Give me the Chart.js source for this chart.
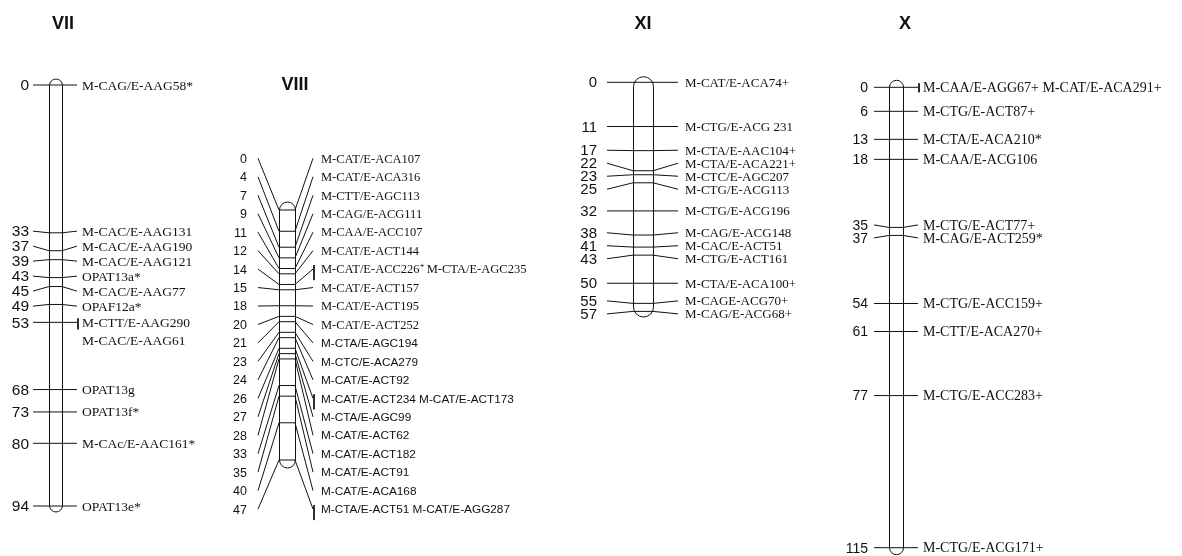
<!DOCTYPE html>
<html>
<head>
<meta charset="utf-8">
<script src="https://cdn.jsdelivr.net/npm/chart.js@4.4.1/dist/chart.umd.min.js"></script>
<style>
  html, body { margin: 0; padding: 0; background: #fff; }
  canvas { display: block; }
</style>
</head>
<body>
<canvas id="map" width="1182" height="556"></canvas>
<script>
//------------------------------------------------------
// DATA : marker positions (cM) and names per linkage group
//------------------------------------------------------
const groups = ['VII', 'VIII', 'XI', 'X'];

const posVII = [0, 33, 37, 39, 43, 45, 49, 53, 68, 73, 80, 94];
const namesVII = ['M-CAG/E-AAG58*', 'M-CAC/E-AAG131', 'M-CAC/E-AAG190', 'M-CAC/E-AAG121',
  'OPAT13a*', 'M-CAC/E-AAG77', 'OPAF12a*', ['M-CTT/E-AAG290', 'M-CAC/E-AAG61'],
  'OPAT13g', 'OPAT13f*', 'M-CAc/E-AAC161*', 'OPAT13e*'];

const posVIII = [0, 4, 7, 9, 11, 12, 14, 15, 18, 20, 21, 23, 24, 26, 27, 28, 33, 35, 40, 47];
const namesVIII = ['M-CAT/E-ACA107', 'M-CAT/E-ACA316', 'M-CTT/E-AGC113', 'M-CAG/E-ACG111',
  'M-CAA/E-ACC107', 'M-CAT/E-ACT144', ['M-CAT/E-ACC226\u207A', 'M-CTA/E-AGC235'],
  'M-CAT/E-ACT157', 'M-CAT/E-ACT195', 'M-CAT/E-ACT252', 'M-CTA/E-AGC194', 'M-CTC/E-ACA279',
  'M-CAT/E-ACT92', ['M-CAT/E-ACT234', 'M-CAT/E-ACT173'], 'M-CTA/E-AGC99', 'M-CAT/E-ACT62',
  'M-CAT/E-ACT182', 'M-CAT/E-ACT91', 'M-CAT/E-ACA168', ['M-CTA/E-ACT51', 'M-CAT/E-AGG287']];

const posXI = [0, 11, 17, 22, 23, 25, 32, 38, 41, 43, 50, 55, 57];
const namesXI = ['M-CAT/E-ACA74+', 'M-CTG/E-ACG 231', 'M-CTA/E-AAC104+', 'M-CTA/E-ACA221+',
  'M-CTC/E-AGC207', 'M-CTG/E-ACG113', 'M-CTG/E-ACG196', 'M-CAG/E-ACG148', 'M-CAC/E-ACT51',
  'M-CTG/E-ACT161', 'M-CTA/E-ACA100+', 'M-CAGE-ACG70+', 'M-CAG/E-ACG68+'];

const posX = [0, 6, 13, 18, 35, 37, 54, 61, 77, 115];
const namesX = [['M-CAA/E-AGG67+', 'M-CAT/E-ACA291+'], 'M-CTG/E-ACT87+', 'M-CTA/E-ACA210*',
  'M-CAA/E-ACG106', 'M-CTG/E-ACT77+', 'M-CAG/E-ACT259*', 'M-CTG/E-ACC159+', 'M-CTT/E-ACA270+',
  'M-CTG/E-ACC283+', 'M-CTG/E-ACG171+'];

const positions = { VII: posVII, VIII: posVIII, XI: posXI, X: posX };
const names = { VII: namesVII, VIII: namesVIII, XI: namesXI, X: namesX };

//------------------------------------------------------
// LAYOUT (page units = pixels on the x axis)
//------------------------------------------------------
const W = 1182, H = 556;
const SERIF = '"Liberation Serif", "Times New Roman", serif';
const SANS = '"Liberation Sans", Arial, sans-serif';

const layout = {
  VII:  { titleX: 63,  titleY: 24, numX: 29,  lineL: 33,  rodL: 49,  rodR: 62,  lineR: 77,  textX: 82,
          px0: 85, px1: 506, gap: 15, shift: 0, cap: 6, tickBelow: 7, stack: true,
          numFont: 15.5, nameFont: 13.5, sansFrom: 99 },
  VIII: { titleX: 295, titleY: 85, numX: 247, lineL: 258, rodL: 279, rodR: 295, lineR: 313, textX: 321,
          px0: 210, px1: 460, gap: 18.46, shift: 13.6, cap: 8, tickBelow: 11, stack: false,
          numFont: 12.5, nameFont: 12.5, sansFont: 11.8, sansFrom: 10 },
  XI:   { titleX: 643, titleY: 24, numX: 597, lineL: 607, rodL: 633, rodR: 653, lineR: 678, textX: 685,
          px0: 82.3, px1: 311.4, gap: 13, shift: 0, cap: 5.6, tickBelow: 6, stack: false,
          numFont: 15, nameFont: 13, sansFrom: 99 },
  X:    { titleX: 905, titleY: 24, numX: 868, lineL: 874, rodL: 889, rodR: 903, lineR: 918, textX: 923,
          px0: 87.3, px1: 547.7, gap: 13, shift: 0, cap: 7, tickBelow: 5, stack: false,
          numFont: 14, nameFont: 14, sansFrom: 99 }
};

// pixels per cM for each group
function pxPerCM(g) {
  const p = positions[g];
  return (layout[g].px1 - layout[g].px0) / (p[p.length - 1] - p[0]);
}

// y range so that the first / last marker land on px0 / px1
function yRange(g) {
  const k = pxPerCM(g);
  const min = positions[g][0] - layout[g].px0 / k;
  return { min: min, max: min + H / k };
}

// push overlapping labels apart, clusters stay centred on their markers
function spreadLabels(pos, gap, shift) {
  let cl = pos.map(p => ({ n: 1, sum: p, start: p }));
  let again = true;
  while (again) {
    again = false;
    for (let i = 0; i < cl.length - 1; i++) {
      const a = cl[i], b = cl[i + 1];
      if (a.start + a.n * gap > b.start + 1e-9) {
        const sum = a.sum + b.sum - b.n * a.n * gap;
        const n = a.n + b.n;
        cl.splice(i, 2, { n: n, sum: sum, start: sum / n });
        again = true;
        break;
      }
    }
  }
  const out = [];
  cl.forEach(c => { for (let j = 0; j < c.n; j++) out.push(c.start + j * gap + shift); });
  return out;
}

const labelPos = {};
groups.forEach(g => {
  const k = pxPerCM(g);
  labelPos[g] = spreadLabels(positions[g], layout[g].gap / k, layout[g].shift / k);
});

//------------------------------------------------------
// DATASETS : marker connector lines
//------------------------------------------------------
const datasets = groups.map(g => {
  const L = layout[g], k = pxPerCM(g);
  const pts = [];
  positions[g].forEach((p, i) => {
    const lab = labelPos[g][i];
    pts.push({ x: L.lineL, y: lab }, { x: L.rodL, y: p }, { x: L.rodR, y: p }, { x: L.lineR, y: lab });
    pts.push({ x: L.lineR, y: null });
    if (Array.isArray(names[g][i])) {
      pts.push({ x: L.lineR + 1, y: lab - 4 / k }, { x: L.lineR + 1, y: lab + L.tickBelow / k });
      pts.push({ x: L.lineR + 1, y: null });
    }
  });
  return {
    label: g,
    data: pts,
    yAxisID: 'y' + g,
    borderColor: '#111',
    borderWidth: 1,
    pointRadius: 0,
    showLine: true,
    spanGaps: false,
    tension: 0
  };
});

//------------------------------------------------------
// SCALES : one hidden y axis per group
//------------------------------------------------------
const scales = {
  x: { type: 'linear', min: 0, max: W, display: false }
};
groups.forEach(g => {
  const r = yRange(g);
  scales['y' + g] = { type: 'linear', reverse: true, min: r.min, max: r.max, display: false };
});

// rods (drawn under the lines)
const rodPlugin = {
  id: 'rods',
  beforeDatasetsDraw(chart) {
    const ctx = chart.ctx, xs = chart.scales.x;
    groups.forEach(g => {
      const L = layout[g], ys = chart.scales['y' + g], p = positions[g];
      const x0 = Math.round(xs.getPixelForValue(L.rodL)) + 0.5;
      const x1 = Math.round(xs.getPixelForValue(L.rodR)) + 0.5;
      const top = ys.getPixelForValue(p[0]) - L.cap;
      const bot = ys.getPixelForValue(p[p.length - 1]) + L.cap;
      ctx.save();
      ctx.beginPath();
      ctx.roundRect(x0, top, x1 - x0, bot - top, (x1 - x0) / 2);
      ctx.fillStyle = '#fff';
      ctx.fill();
      ctx.strokeStyle = '#111';
      ctx.lineWidth = 1;
      ctx.stroke();
      ctx.restore();
    });
  }
};

// titles, cM numbers and marker names
const textPlugin = {
  id: 'texts',
  afterDatasetsDraw(chart) {
    const ctx = chart.ctx, xs = chart.scales.x;
    ctx.save();
    ctx.fillStyle = '#111';
    groups.forEach(g => {
      const L = layout[g], ys = chart.scales['y' + g];
      ctx.font = 'bold 18px ' + SANS;
      ctx.textAlign = 'center';
      ctx.textBaseline = 'middle';
      ctx.fillText(g, xs.getPixelForValue(L.titleX), L.titleY);

      positions[g].forEach((p, i) => {
        const y = ys.getPixelForValue(labelPos[g][i]);
        ctx.font = L.numFont + 'px ' + SANS;
        ctx.textAlign = 'right';
        ctx.fillText(String(p), xs.getPixelForValue(L.numX), y + 1);

        const nm = names[g][i];
        const sans = i >= L.sansFrom;
        ctx.font = sans ? (L.sansFont + 'px ' + SANS) : (L.nameFont + 'px ' + SERIF);
        ctx.textAlign = 'left';
        const tx = xs.getPixelForValue(L.textX);
        if (Array.isArray(nm) && L.stack) {
          nm.forEach((s, j) => ctx.fillText(s, tx, y + 1 + j * 18));
        } else {
          ctx.fillText(Array.isArray(nm) ? nm.join(' ') : nm, tx, y + 1);
        }
      });
    });
    ctx.restore();
  }
};

const mapChart = new Chart(document.getElementById('map').getContext('2d'), {
  type: 'line',
  data: { datasets: datasets },
  options: {
    responsive: false,
    animation: false,
    devicePixelRatio: 1,
    layout: { padding: 0 },
    scales: scales,
    plugins: {
      legend: { display: false },
      tooltip: { enabled: false }
    }
  },
  plugins: [rodPlugin, textPlugin]
});
</script>
</body>
</html>
